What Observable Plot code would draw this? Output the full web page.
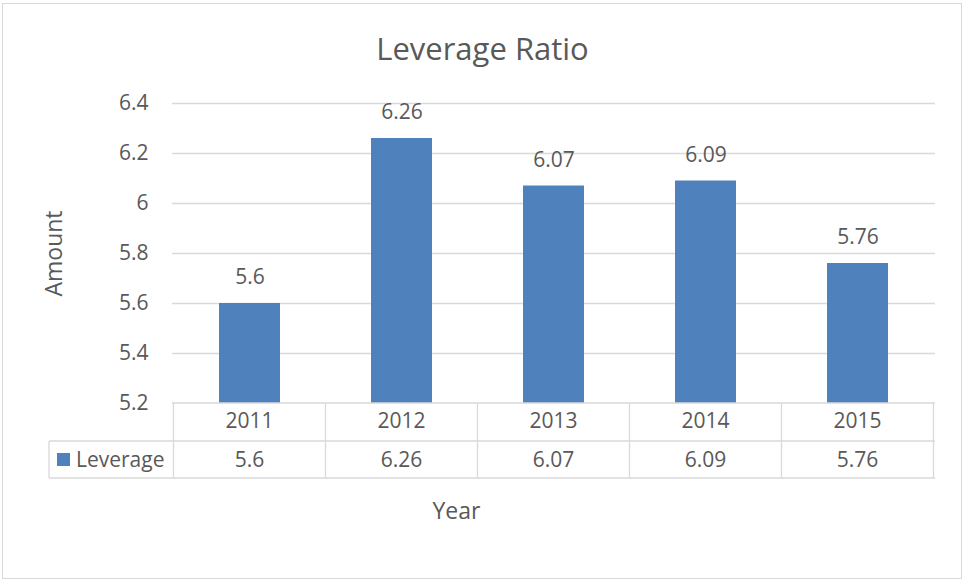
<!DOCTYPE html>
<html><head><meta charset="utf-8">
<script src="https://cdn.jsdelivr.net/npm/d3@7"></script>
<script src="https://cdn.jsdelivr.net/npm/@observablehq/plot@0.6"></script>
<style>
html,body{margin:0;padding:0;background:#fff;}
#wrap{position:relative;width:964px;height:582px;}
#border{position:absolute;left:2px;top:3px;width:960px;height:576px;box-sizing:border-box;border:1.5px solid #d9d9d9;pointer-events:none;}
#chart{position:absolute;left:0;top:0;}
</style>
</head><body>
<div id="wrap"><div id="chart"></div><div id="border"></div></div>
<script>
// ---- data ----
const years = ["2011", "2012", "2013", "2014", "2015"];
const leverage = [5.6, 6.26, 6.07, 6.09, 5.76];
const yTicks = [5.2, 5.4, 5.6, 5.8, 6, 6.2, 6.4];
const seriesName = "Leverage";
const chartTitle = "Leverage Ratio";
const xTitle = "Year";
const yTitle = "Amount";

const data = years.map((y, i) => ({year: y, value: leverage[i]}));
const FONT = "'Open Sans', sans-serif";
const TXT = "#595959";
const GRID = "#d9d9d9";
const BLUE = "#4f81bd";
const FS = 21;

// data table under the chart, drawn from the x scale
function tableMark(index, scales, values, dims) {
  const x = scales.x;
  const bw = x.bandwidth ? x.bandwidth() : 0;
  const step = x(years[1]) - x(years[0]);
  const left = dims.marginLeft, right = dims.width - dims.marginRight;
  const top = dims.height - dims.marginBottom;
  const r1 = top + 38, r2 = top + 75;
  const legendLeft = left - 123;
  const g = d3.create("svg:g").attr("stroke", GRID).attr("stroke-width", 1.3).attr("fill", "none");
  g.append("line").attr("x1", left).attr("x2", right).attr("y1", top).attr("y2", top);
  g.append("line").attr("x1", legendLeft).attr("x2", right).attr("y1", r1).attr("y2", r1);
  g.append("line").attr("x1", legendLeft).attr("x2", right).attr("y1", r2).attr("y2", r2);
  const bounds = years.map(y => x(y) + bw / 2 - step / 2).concat([x(years[years.length - 1]) + bw / 2 + step / 2]);
  for (const b of bounds) g.append("line").attr("x1", b).attr("x2", b).attr("y1", top).attr("y2", r2);
  g.append("line").attr("x1", legendLeft).attr("x2", legendLeft).attr("y1", r1).attr("y2", r2);
  const t = g.append("g").attr("stroke", "none").attr("fill", TXT).attr("font-family", FONT).attr("font-size", FS).attr("text-anchor", "middle");
  years.forEach((y, i) => {
    const cx = x(y) + bw / 2;
    t.append("text").attr("x", cx).attr("y", (top + r1) / 2 - 1).attr("dy", "0.35em").text(y);
    t.append("text").attr("x", cx).attr("y", (r1 + r2) / 2).attr("dy", "0.35em").text(String(leverage[i]));
  });
  g.append("rect").attr("stroke", "none").attr("fill", BLUE).attr("x", legendLeft + 8).attr("y", (r1 + r2) / 2 - 6.5).attr("width", 13).attr("height", 13);
  t.append("text").attr("text-anchor", "start").attr("x", legendLeft + 27).attr("y", (r1 + r2) / 2).attr("dy", "0.35em").text(seriesName);
  return g.node();
}

const chart = Plot.plot({
  width: 964,
  height: 582,
  marginLeft: 172,
  marginRight: 29,
  marginTop: 103,
  marginBottom: 179,
  style: {fontFamily: FONT, color: TXT, background: "transparent", overflow: "visible"},
  x: {domain: years, paddingInner: 0.6, paddingOuter: 0.3, axis: null},
  y: {domain: [yTicks[0], yTicks[yTicks.length - 1]], axis: null},
  marks: [
    Plot.ruleY(yTicks.slice(1), {stroke: GRID, strokeWidth: 1.3}),
    Plot.axisY({ticks: yTicks, tickSize: 0, tickPadding: 24, fontSize: FS, label: null, tickFormat: d => String(d)}),
    Plot.barY(data, {x: "year", y1: yTicks[0], y2: "value", fill: BLUE}),
    Plot.text(data, {x: "year", y: "value", text: d => String(d.value), dy: -26, fontSize: FS, fill: TXT}),
    tableMark,
    Plot.text([chartTitle], {frameAnchor: "top", lineAnchor: "middle", dx: -71.5, dy: -53, fontSize: 31, fill: TXT}),
    Plot.text([yTitle], {frameAnchor: "left", lineAnchor: "middle", textAnchor: "middle", dx: -118, rotate: -90, fontSize: 23, fill: TXT}),
    Plot.text([xTitle], {frameAnchor: "bottom", lineAnchor: "middle", dx: -97.5, dy: 108, fontSize: 23, fill: TXT})
  ]
});
document.getElementById("chart").appendChild(chart);
</script>
</body></html>
